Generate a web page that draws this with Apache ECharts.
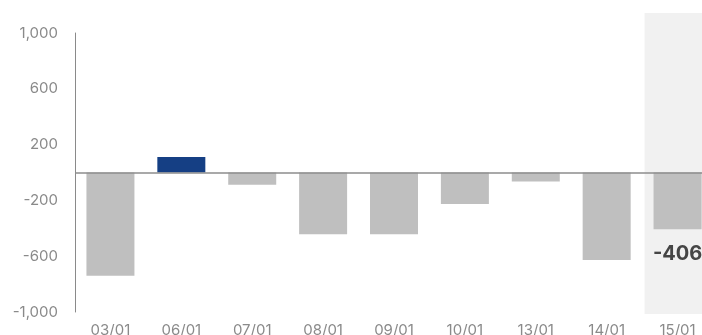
<!DOCTYPE html>
<html>
<head>
<meta charset="utf-8">
<script src="https://cdn.jsdelivr.net/npm/echarts@6/dist/echarts.min.js"></script>
<style>
html,body{margin:0;padding:0;background:#fff;}
#chart{width:702px;height:335px;}
</style>
</head>
<body>
<div id="chart"></div>
<script>
const categories = ['03/01','06/01','07/01','08/01','09/01','10/01','13/01','14/01','15/01'];
const values = [-740, 112, -88, -442, -442, -225, -65, -627, -406];
const highlightIndex = 1;
const lastIndex = 8;
const yTicks = [-1000, -600, -200, 200, 600, 1000];

const chart = echarts.init(document.getElementById('chart'), null, {renderer: 'canvas'});
const FONT = 'Inter, "Noto Sans", sans-serif';

const data = values.map((v, i) => {
  const item = {value: v, itemStyle: {color: i === highlightIndex ? '#153f84' : '#bfbfbf'}};
  if (i === lastIndex) {
    item.label = {
      show: true,
      position: 'bottom',
      distance: 15,
      formatter: (p) => String(p.value),
      fontFamily: FONT,
      fontSize: 20,
      fontWeight: 'bold',
      color: '#454545'
    };
  }
  return item;
});

// highlight band behind the last category (drawn by the library on a hidden grid)
const bandData = categories.map((c, i) => (i === lastIndex ? 1 : null));

chart.setOption({
  animation: false,
  backgroundColor: '#ffffff',
  grid: [
    {left: 75, width: 638, top: 13, bottom: 21, outerBoundsMode: 'none', containLabel: false},
    {left: 75, width: 638, top: 33, bottom: 23, outerBoundsMode: 'none', containLabel: false}
  ],
  xAxis: [{
    gridIndex: 0,
    type: 'category',
    data: categories,
    show: false
  }, {
    gridIndex: 1,
    type: 'category',
    data: categories,
    axisLine: {show: false},
    axisTick: {show: false},
    axisLabel: {margin: 11, fontFamily: FONT, fontSize: 15, color: '#8a8a8a'},
    splitLine: {show: false}
  }],
  yAxis: [{
    gridIndex: 0,
    type: 'value',
    min: 0,
    max: 1,
    show: false,
    splitLine: {show: false}
  }, {
    gridIndex: 1,
    type: 'value',
    min: yTicks[0],
    max: yTicks[yTicks.length - 1],
    interval: 400,
    axisLine: {show: true, lineStyle: {color: '#8a8a8a', width: 1}},
    axisTick: {show: false},
    splitLine: {show: false},
    axisLabel: {
      margin: 17,
      fontFamily: FONT,
      fontSize: 15,
      color: '#8a8a8a',
      formatter: (v) => v.toLocaleString('en-US')
    }
  }],
  series: [{
    type: 'bar',
    xAxisIndex: 0,
    yAxisIndex: 0,
    data: bandData,
    barWidth: 66,
    silent: true,
    z: 0,
    itemStyle: {color: '#f1f1f1'}
  }, {
    type: 'bar',
    xAxisIndex: 1,
    yAxisIndex: 1,
    data: data,
    barWidth: 48,
    z: 2,
    markLine: {
      silent: true,
      symbol: 'none',
      label: {show: false},
      lineStyle: {color: '#8c8c8c', width: 1.5, type: 'solid'},
      data: [{yAxis: 0}]
    }
  }]
});
</script>
</body>
</html>
